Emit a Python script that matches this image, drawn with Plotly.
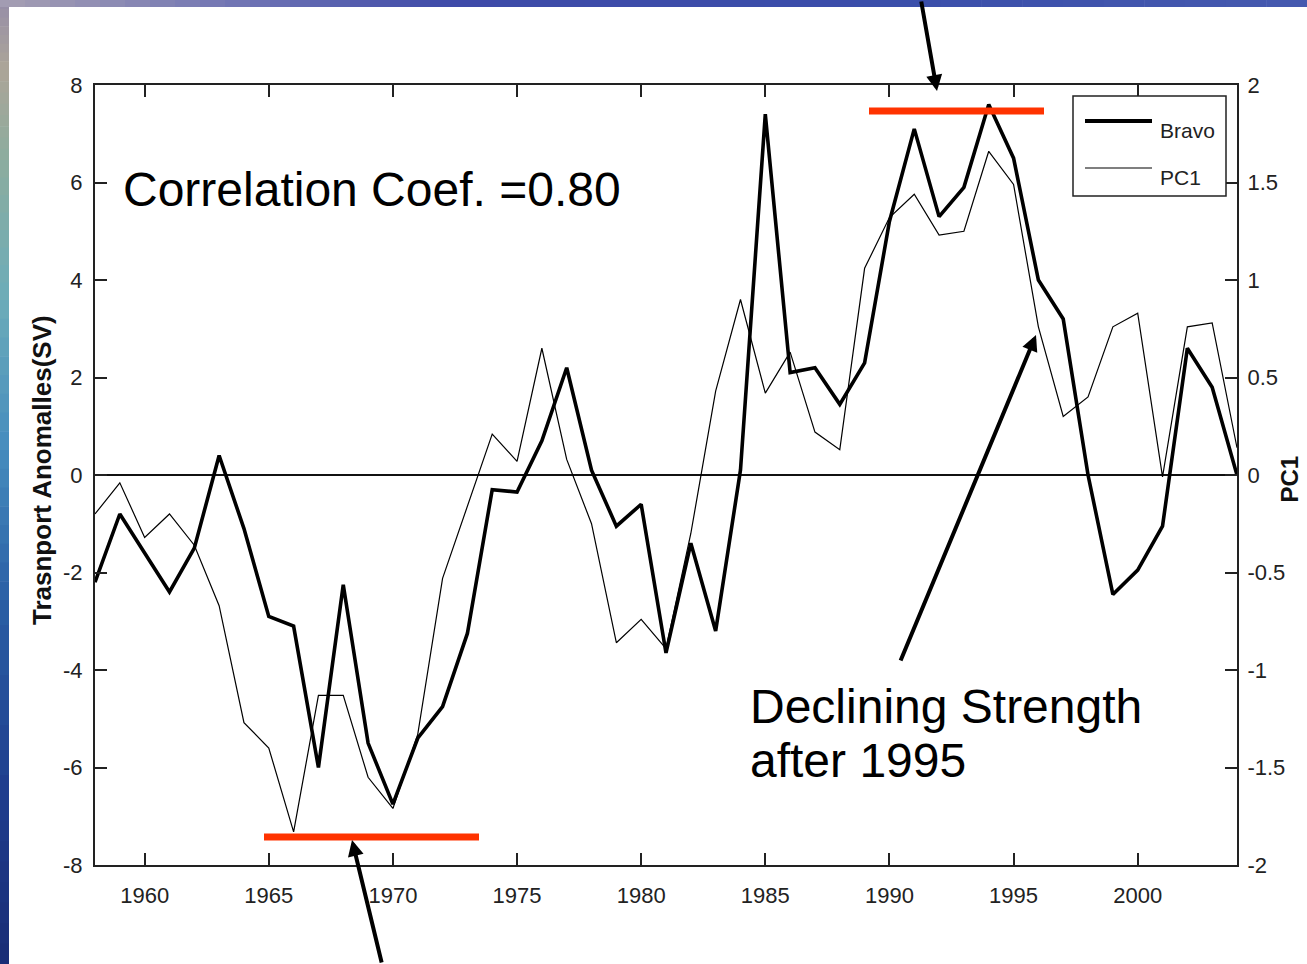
import plotly.graph_objects as go

# ---- data -------------------------------------------------------------
years = list(range(1958, 2005))

# Bravo transport anomalies (Sv), left axis
bravo = [-2.2, -0.8, -1.6, -2.4, -1.5, 0.4, -1.1, -2.9, -3.1, -6.0,
         -2.25, -5.5, -6.75, -5.4, -4.75, -3.25, -0.3, -0.35, 0.7, 2.2,
         0.1, -1.05, -0.6, -3.65, -1.4, -3.2, 0.1, 7.4, 2.1, 2.2,
         1.45, 2.3, 5.2, 7.1, 5.3, 5.9, 7.6, 6.5, 4.0, 3.2,
         0.0, -2.45, -1.95, -1.05, 2.6, 1.8, 0.0]

# First principal component, right axis
pc1 = [-0.2, -0.04, -0.32, -0.2, -0.36, -0.67, -1.27, -1.4, -1.83, -1.13,
       -1.13, -1.55, -1.71, -1.33, -0.53, -0.16, 0.21, 0.07, 0.65, 0.08,
       -0.25, -0.86, -0.74, -0.89, -0.3, 0.43, 0.9, 0.42, 0.63, 0.22,
       0.13, 1.06, 1.32, 1.44, 1.23, 1.25, 1.66, 1.49, 0.76, 0.3,
       0.4, 0.76, 0.83, -0.01, 0.76, 0.78, 0.14]

x_ticks = [1960, 1965, 1970, 1975, 1980, 1985, 1990, 1995, 2000]
left_ticks = [-8, -6, -4, -2, 0, 2, 4, 6, 8]
right_ticks = [-2, -1.5, -1, -0.5, 0, 0.5, 1, 1.5, 2]
left_labels = [str(v) for v in left_ticks]
right_labels = ["-2", "-1.5", "-1", "-0.5", "0", "0.5", "1", "1.5", "2"]

# ---- page geometry ----------------------------------------------------
W, H = 1307, 964
ML, MR, MT, MB = 95, 70, 85, 99
PW = W - ML - MR
PH = H - MT - MB


def fx(px):
    return (px - ML) / PW


def fy(py):
    return (H - MB - py) / PH


NARROW = "Liberation Sans Narrow, Arial Narrow, Liberation Sans, Arial"
SANS = "Liberation Sans, Arial, Helvetica"
RED = "#ff3300"

fig = go.Figure()
fig.add_trace(go.Scatter(x=years, y=bravo, mode="lines", name="Bravo",
                         line=dict(color="black", width=3.6),
                         showlegend=False))
fig.add_trace(go.Scatter(x=years, y=pc1, mode="lines", name="PC1", yaxis="y2",
                         line=dict(color="black", width=1.2),
                         showlegend=False))

shapes = []


def lerp(c0, c1, t):
    return tuple(int(round(a + (b - a) * t)) for a, b in zip(c0, c1))


# slide background: vertical strip on the left and a band along the top
left_stops = [(0, (150, 142, 168)), (70, (172, 165, 152)), (160, (140, 172, 158)),
              (300, (108, 172, 185)), (450, (70, 140, 190)), (600, (42, 95, 165)),
              (800, (30, 60, 140)), (964, (25, 45, 118))]
for (y0, c0), (y1, c1) in zip(left_stops[:-1], left_stops[1:]):
    n = 8
    for k in range(n):
        a = y0 + (y1 - y0) * k / n
        b = y0 + (y1 - y0) * (k + 1) / n
        col = lerp(c0, c1, (k + 0.5) / n)
        shapes.append(dict(type="rect", xref="paper", yref="paper", layer="below",
                           x0=fx(0), x1=fx(9), y0=fy(b + 0.5), y1=fy(a),
                           fillcolor="rgb(%d,%d,%d)" % col, line=dict(width=0)))
top_stops = [(0, (165, 158, 178)), (250, (110, 115, 180)), (450, (62, 74, 168)),
             (900, (58, 78, 170)), (1307, (70, 90, 175))]
for (x0, c0), (x1, c1) in zip(top_stops[:-1], top_stops[1:]):
    n = 10
    for k in range(n):
        a = x0 + (x1 - x0) * k / n
        b = x0 + (x1 - x0) * (k + 1) / n
        col = lerp(c0, c1, (k + 0.5) / n)
        shapes.append(dict(type="rect", xref="paper", yref="paper", layer="below",
                           x0=fx(a), x1=fx(b + 0.5), y0=fy(7), y1=fy(0),
                           fillcolor="rgb(%d,%d,%d)" % col, line=dict(width=0)))

# highlighted minimum / maximum periods
shapes.append(dict(type="line", xref="paper", yref="paper",
                   x0=fx(264), x1=fx(479), y0=fy(837), y1=fy(837),
                   line=dict(color=RED, width=7)))
shapes.append(dict(type="line", xref="paper", yref="paper",
                   x0=fx(869), x1=fx(1044), y0=fy(111), y1=fy(111),
                   line=dict(color=RED, width=7)))

# legend box
shapes.append(dict(type="rect", xref="paper", yref="paper",
                   x0=fx(1073), x1=fx(1226), y0=fy(196), y1=fy(96),
                   fillcolor="white", line=dict(color="#222", width=1.5)))
shapes.append(dict(type="line", xref="paper", yref="paper",
                   x0=fx(1085), x1=fx(1152), y0=fy(121), y1=fy(121),
                   line=dict(color="black", width=4)))
shapes.append(dict(type="line", xref="paper", yref="paper",
                   x0=fx(1085), x1=fx(1152), y0=fy(168), y1=fy(168),
                   line=dict(color="black", width=1.2)))

annotations = [
    dict(text="Correlation Coef. =0.80", xref="paper", yref="paper",
         x=fx(121), y=fy(190), xanchor="left", yanchor="middle", showarrow=False,
         font=dict(family=SANS, size=48, color="black")),
    dict(text="Declining Strength", xref="paper", yref="paper",
         x=fx(748), y=fy(706), xanchor="left", yanchor="middle", showarrow=False,
         font=dict(family=SANS, size=48, color="black")),
    dict(text="after 1995", xref="paper", yref="paper",
         x=fx(748), y=fy(760), xanchor="left", yanchor="middle", showarrow=False,
         font=dict(family=SANS, size=48, color="black")),
    dict(text=fig.data[0].name, xref="paper", yref="paper",
         x=fx(1158), y=fy(130), xanchor="left", yanchor="middle", showarrow=False,
         font=dict(family=NARROW, size=21, color="#222")),
    dict(text=fig.data[1].name, xref="paper", yref="paper",
         x=fx(1158), y=fy(177), xanchor="left", yanchor="middle", showarrow=False,
         font=dict(family=NARROW, size=21, color="#222")),
    # axis titles
    dict(text="Trasnport Anomalles(SV)", xref="paper", yref="paper",
         x=fx(42), y=fy(470), xanchor="center", yanchor="middle", showarrow=False,
         textangle=-90,
         font=dict(family=SANS, size=26, color="#111", weight="bold")),
    dict(text="PC1", xref="paper", yref="paper",
         x=fx(1304), y=fy(479), xanchor="right", yanchor="middle", showarrow=False,
         textangle=-90,
         font=dict(family=SANS, size=24, color="#111", weight="bold")),
    # arrows
    dict(text="", xref="paper", yref="paper", x=fx(937), y=fy(91),
         ax=-16, ay=-100, showarrow=True, arrowhead=2, arrowsize=0.8,
         arrowwidth=4, arrowcolor="black", standoff=0),
    dict(text="", xref="paper", yref="paper", x=fx(352), y=fy(840),
         ax=30, ay=135, showarrow=True, arrowhead=2, arrowsize=0.8,
         arrowwidth=4, arrowcolor="black", standoff=0),
    dict(text="", xref="paper", yref="paper", x=fx(1036), y=fy(335),
         ax=-136, ay=327, showarrow=True, arrowhead=2, arrowsize=0.8,
         arrowwidth=4, arrowcolor="black", standoff=0),
]

axis_common = dict(showgrid=False, ticks="inside", ticklen=12, tickwidth=1.5,
                   tickcolor="#222", showline=True, linecolor="#222", linewidth=2,
                   tickfont=dict(family=NARROW, size=22, color="#222"))

fig.update_layout(
    width=W, height=H,
    margin=dict(l=ML, r=MR, t=MT, b=MB, pad=0),
    paper_bgcolor="white", plot_bgcolor="white",
    xaxis=dict(range=[1958, 2004], tickvals=x_ticks, mirror="ticks",
               zeroline=False, ticklabelstandoff=10, **axis_common),
    yaxis=dict(range=[-8, 8], tickvals=left_ticks, ticktext=left_labels,
               mirror=True, zeroline=True, zerolinecolor="#111",
               zerolinewidth=1.5, ticklabelstandoff=6, **axis_common),
    yaxis2=dict(range=[-2, 2], tickvals=right_ticks, ticktext=right_labels,
                overlaying="y", side="right", zeroline=False,
                ticklabelstandoff=4, **axis_common),
    shapes=shapes,
    annotations=annotations,
    showlegend=False,
)

fig.write_html("out.html")
